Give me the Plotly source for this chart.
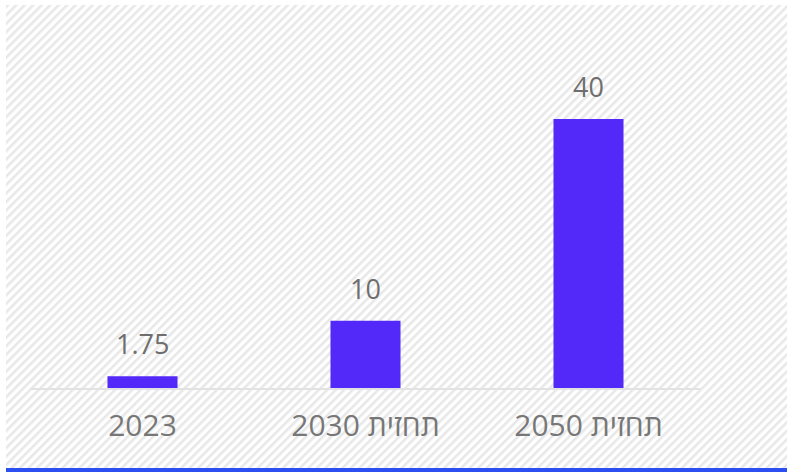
import base64
import plotly.graph_objects as go

# Chart data
categories = ["2023", "תחזית 2030", "תחזית 2050"]
values = [1.75, 10, 40]
value_labels = ["1.75", "10", "40"]

W, H = 787, 472
L, R, T, B = 31, 87, 85, 84
plot_w = W - L - R
plot_h = H - T - B
px_per_unit = 6.725
y_max = plot_h / px_per_unit

BAR_COLOR = "#5229f8"
TEXT_COLOR = "#6e6e6e"
FONT = "Open Sans, DejaVu Sans, sans-serif"


def px_to_paper_x(px):
    return (px - L) / plot_w


def px_to_paper_y(py):
    return (H - B - py) / plot_h


# Diagonal hatched panel behind the chart
bg_x0, bg_y0, bg_x1, bg_y1 = 6, 5, 787, 468
bg_w, bg_h = bg_x1 - bg_x0, bg_y1 - bg_y0
svg = (
    f'<svg xmlns="http://www.w3.org/2000/svg" width="{bg_w}" height="{bg_h}" '
    f'viewBox="0 0 {bg_w} {bg_h}" preserveAspectRatio="none">'
    '<defs><pattern id="h" patternUnits="userSpaceOnUse" width="6" height="6" '
    'patternTransform="rotate(45)">'
    '<rect x="0" y="0" width="6" height="6" fill="#ffffff"/>'
    '<rect x="0" y="0" width="2.6" height="6" fill="#e8e8e8"/>'
    '</pattern></defs>'
    f'<rect x="0" y="0" width="{bg_w}" height="{bg_h}" fill="url(#h)"/></svg>'
)
svg_uri = "data:image/svg+xml;base64," + base64.b64encode(svg.encode()).decode()

fig = go.Figure()
fig.add_trace(go.Bar(
    x=categories,
    y=values,
    width=0.314,
    marker=dict(color=BAR_COLOR, line=dict(width=0)),
    hoverinfo="skip",
))

# Value labels above each bar (category axis uses index positions)
for i, (val, lab) in enumerate(zip(values, value_labels)):
    fig.add_annotation(
        x=i, y=val, xref="x", yref="y", text=lab, showarrow=False,
        yanchor="bottom", yshift=12,
        font=dict(family=FONT, size=27, color=TEXT_COLOR),
    )

fig.add_layout_image(dict(
    source=svg_uri,
    xref="paper", yref="paper",
    x=px_to_paper_x(bg_x0), y=px_to_paper_y(bg_y0),
    sizex=bg_w / plot_w, sizey=bg_h / plot_h,
    xanchor="left", yanchor="top",
    sizing="stretch", layer="below",
))

# Blue rule along the bottom edge
fig.add_shape(
    type="rect", xref="paper", yref="paper",
    x0=px_to_paper_x(6), x1=px_to_paper_x(787),
    y0=px_to_paper_y(472), y1=px_to_paper_y(468),
    fillcolor="#2b4ff0", line=dict(width=0), layer="above",
)

fig.update_layout(
    width=W, height=H,
    margin=dict(l=L, r=R, t=T, b=B),
    paper_bgcolor="#ffffff",
    plot_bgcolor="rgba(0,0,0,0)",
    showlegend=False,
    font=dict(family=FONT, color=TEXT_COLOR),
    xaxis=dict(
        type="category",
        range=[-0.5, 2.5],
        showgrid=False, zeroline=False,
        showline=True, linecolor="#e2e2e2", linewidth=2,
        ticks="", ticklabelstandoff=10,
        tickfont=dict(family=FONT, size=30, color="#777777"),
        fixedrange=True,
    ),
    yaxis=dict(
        range=[0, y_max],
        showgrid=False, zeroline=False, showline=False,
        showticklabels=False, ticks="", fixedrange=True,
    ),
)

fig.write_html("out.html", config={"displayModeBar": False})
